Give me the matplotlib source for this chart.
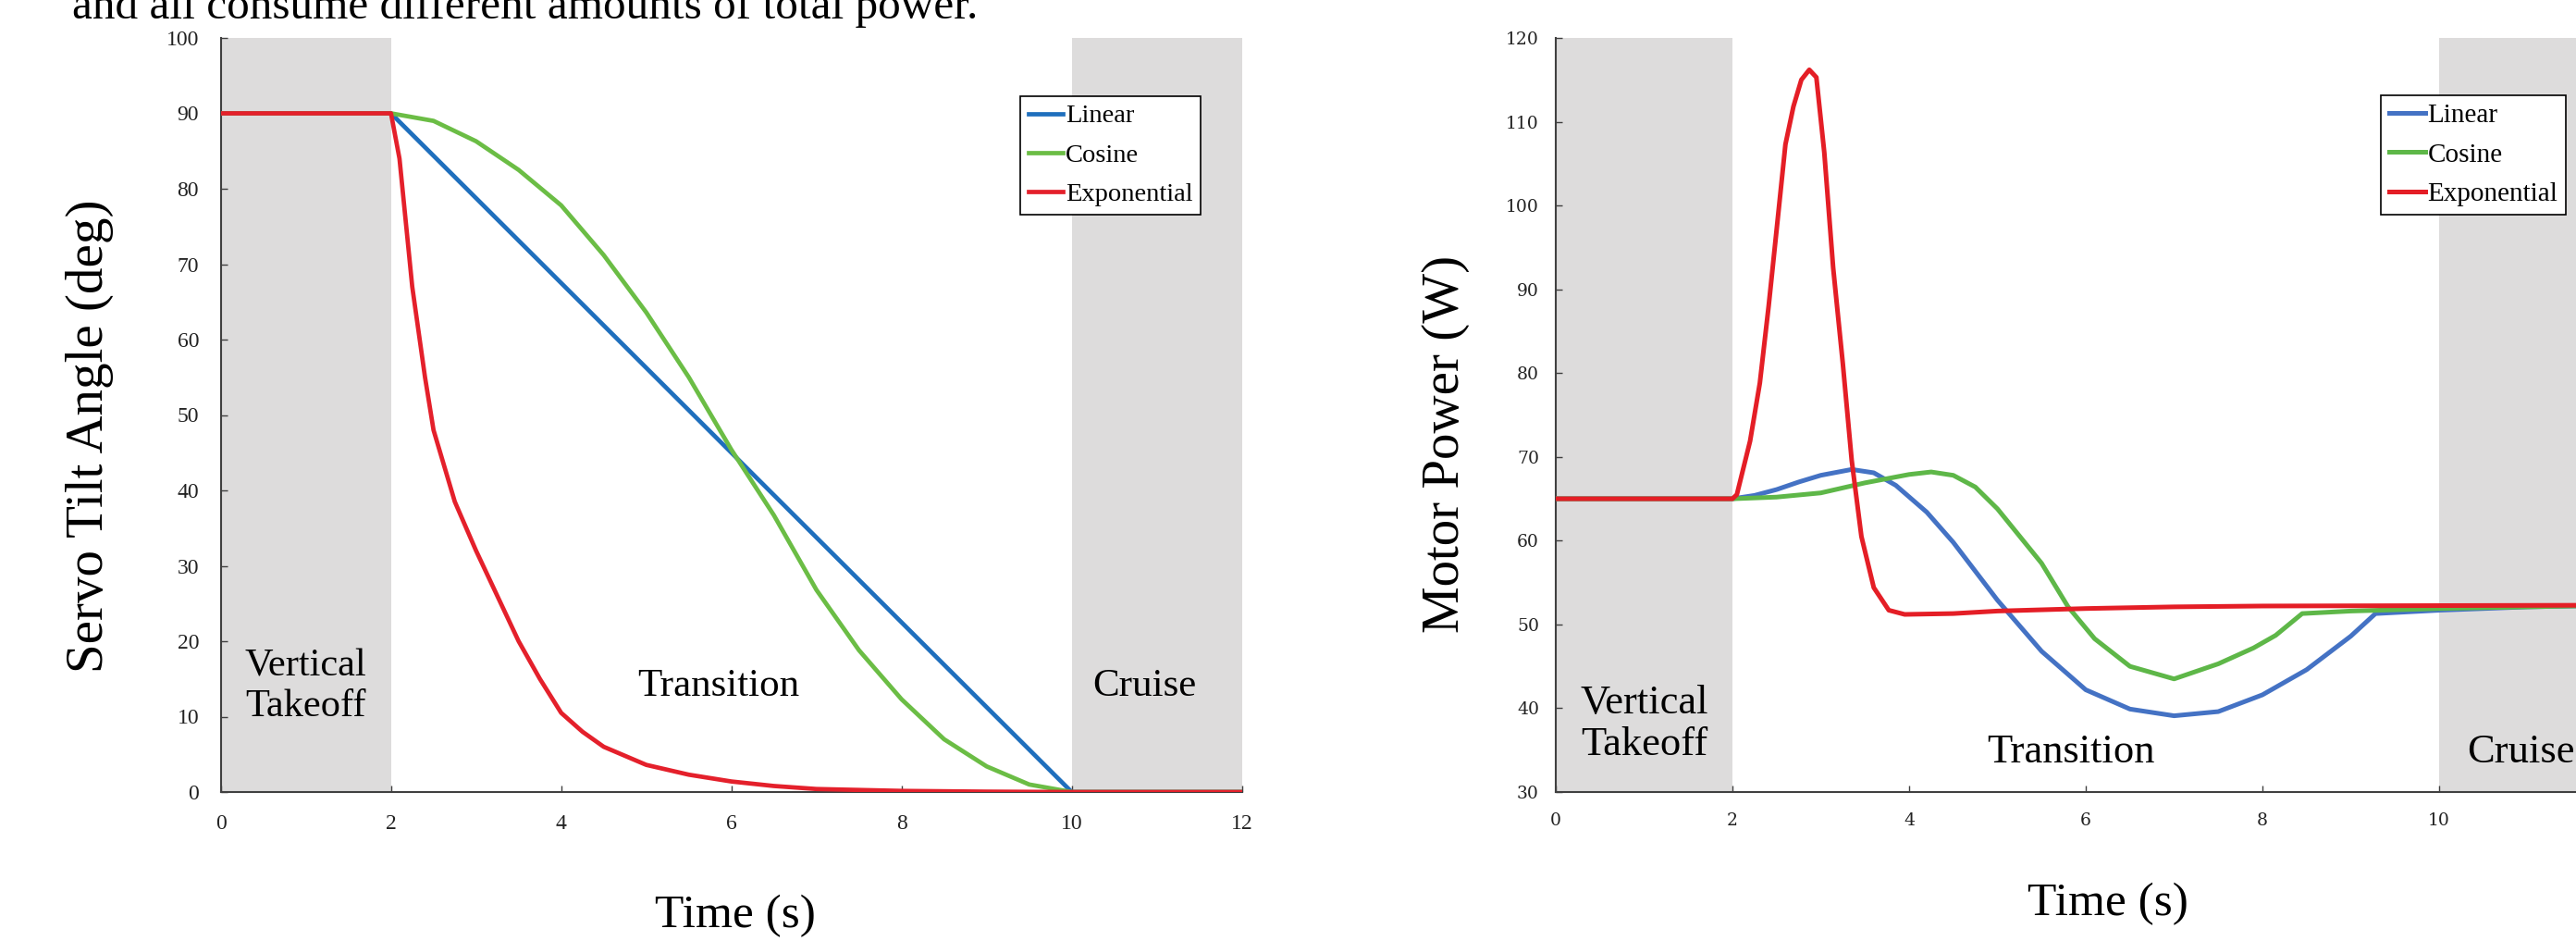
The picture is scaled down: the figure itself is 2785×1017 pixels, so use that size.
import matplotlib
matplotlib.use("Agg")
import matplotlib.pyplot as plt

plt.rcParams['font.family'] = ['Liberation Serif', 'DejaVu Serif']

# ---------------- data ----------------
series_names = ["Linear", "Cosine", "Exponential"]

# Servo tilt angle (deg) vs time (s)
tilt_lin_t = [0, 2, 10, 12]
tilt_lin_v = [90, 90, 0, 0]
tilt_cos_t = [0, 2, 2.5, 3, 3.5, 4, 4.5, 5, 5.5, 6, 6.5, 7, 7.5, 8, 8.5, 9, 9.5, 10, 12]
tilt_cos_v = [90, 90, 89, 86.3, 82.5, 77.8, 71.2, 63.6, 55, 45.4, 36.7, 26.8, 18.8, 12.3, 7, 3.4, 1.0, 0, 0]
tilt_exp_t = [0, 2, 2.1, 2.25, 2.4, 2.5, 2.75, 3, 3.25, 3.5, 3.75, 4, 4.25, 4.5, 5, 5.5, 6, 6.5, 7, 8, 9, 10, 12]
tilt_exp_v = [90, 90, 84, 67, 55, 48, 38.5, 32, 26, 20, 15, 10.5, 8, 6, 3.6, 2.3, 1.4, 0.8, 0.4, 0.15, 0.05, 0, 0]

# Motor power (W) vs time (s)
pow_lin_t = [0, 2, 2.25, 2.5, 2.75, 3, 3.35, 3.6, 3.85, 4.2, 4.5, 5, 5.5, 6, 6.5, 7, 7.5, 8, 8.5, 9, 9.28, 10, 11, 12]
pow_lin_v = [65, 65, 65.4, 66.1, 67, 67.8, 68.5, 68.1, 66.6, 63.4, 59.8, 52.9, 46.8, 42.2, 39.9, 39.1, 39.6, 41.6, 44.6, 48.6, 51.3, 51.7, 52.1, 52.3]
pow_cos_t = [0, 2, 2.5, 3, 3.5, 4, 4.25, 4.5, 4.75, 5, 5.5, 5.8, 6.1, 6.5, 7, 7.5, 7.9, 8.15, 8.45, 9, 10, 11, 12]
pow_cos_v = [65, 65, 65.2, 65.7, 66.9, 67.9, 68.2, 67.8, 66.4, 63.8, 57.3, 52.1, 48.3, 45, 43.5, 45.3, 47.2, 48.7, 51.3, 51.6, 51.9, 52.1, 52.3]
pow_exp_t = [0, 2, 2.05, 2.2, 2.31, 2.41, 2.5, 2.6, 2.69, 2.78, 2.87, 2.95, 3.04, 3.14, 3.25, 3.35, 3.46, 3.6, 3.77, 3.95, 4.5, 5, 6, 7, 8, 12]
pow_exp_v = [65, 65, 65.5, 71.9, 78.8, 88, 97.1, 107.3, 111.8, 115, 116.2, 115.3, 106.3, 92.6, 81.1, 69.6, 60.5, 54.4, 51.7, 51.2, 51.3, 51.6, 51.9, 52.1, 52.2, 52.3]

phase_labels = ["Vertical\nTakeoff", "Transition", "Cruise"]
left_xticks = [0, 2, 4, 6, 8, 10, 12]
left_yticks = [0, 10, 20, 30, 40, 50, 60, 70, 80, 90, 100]
right_yticks = [30, 40, 50, 60, 70, 80, 90, 100, 110, 120]

caption = "and all consume different amounts of total power."

# ---------------- figure ----------------
W, H = 2785, 1017
fig = plt.figure(figsize=(W / 100, H / 100), dpi=100)

def fx(px):
    return px / W

def fy(py):
    return 1 - py / H

GRAY = '#dddcdc'
SPINE = '#404040'

def style_axes(ax, tickfont, tickfs, ypad, xpad):
    for s in ['top', 'right']:
        ax.spines[s].set_visible(False)
    for s in ['left', 'bottom']:
        ax.spines[s].set_color(SPINE)
        ax.spines[s].set_linewidth(1.5)
    ax.tick_params(axis='both', direction='in', length=5, width=1, color=SPINE, labelcolor='#222222')
    ax.tick_params(axis='y', pad=ypad)
    ax.tick_params(axis='x', pad=xpad)
    for lab in ax.get_xticklabels() + ax.get_yticklabels():
        lab.set_fontfamily(tickfont)
        lab.set_fontsize(tickfs)

# ---- left chart ----
ax1 = fig.add_axes([fx(238.7), fy(856), fx(1342.7) - fx(238.7), fy(41) - fy(856)])
ax1.set_xlim(0, 12)
ax1.set_ylim(0, 100)
ax1.axvspan(0, 2, color=GRAY, lw=0, zorder=0)
ax1.axvspan(10, 12, color=GRAY, lw=0, zorder=0)
c1 = ['#1f6fbd', '#6bbd45', '#e4202b']
ax1.plot(tilt_lin_t, tilt_lin_v, color=c1[0], lw=3.4, label=series_names[0], zorder=3)
ax1.plot(tilt_cos_t, tilt_cos_v, color=c1[1], lw=3.4, label=series_names[1], zorder=3)
ax1.plot(tilt_exp_t, tilt_exp_v, color=c1[2], lw=3.4, label=series_names[2], zorder=3)
ax1.set_xticks(left_xticks)
ax1.set_yticks(left_yticks)
style_axes(ax1, 'Liberation Serif', 17, 17, 17)
ax1.text(1, 14, phase_labels[0], ha='center', va='center', fontsize=30.5, linespacing=1.15)
ax1.text(5.85, 14, phase_labels[1], ha='center', va='center', fontsize=31)
ax1.text(10.86, 14, phase_labels[2], ha='center', va='center', fontsize=31)
leg1 = ax1.legend(loc='upper left', bbox_to_anchor=(fx(1103), fy(104)), bbox_transform=fig.transFigure,
                  fontsize=20.5, frameon=True, fancybox=False, edgecolor='black', framealpha=1,
                  handlelength=1.33, handletextpad=0.1, borderpad=0.3, labelspacing=0.58, borderaxespad=0)
leg1.get_frame().set_linewidth(1.2)

# ---- right chart ----
ax2 = fig.add_axes([fx(1682), fy(856), fx(1682 + 12 * 95.5) - fx(1682), fy(41) - fy(856)])
ax2.set_xlim(0, 12)
ax2.set_ylim(30, 120)
ax2.axvspan(0, 2, color=GRAY, lw=0, zorder=0)
ax2.axvspan(10, 12, color=GRAY, lw=0, zorder=0)
c2 = ['#4472c4', '#5eb748', '#e41e26']
ax2.plot(pow_lin_t, pow_lin_v, color=c2[0], lw=3.6, label=series_names[0], zorder=3)
ax2.plot(pow_cos_t, pow_cos_v, color=c2[1], lw=3.6, label=series_names[1], zorder=3)
ax2.plot(pow_exp_t, pow_exp_v, color=c2[2], lw=3.6, label=series_names[2], zorder=3)
ax2.set_xticks(left_xticks)
ax2.set_yticks(right_yticks)
style_axes(ax2, 'DejaVu Serif', 13.5, 13, 16)
ax2.text(1, 38.1, phase_labels[0], ha='center', va='center', fontsize=32, linespacing=1.15)
ax2.text(5.83, 34.7, phase_labels[1], ha='center', va='center', fontsize=32)
ax2.text(10.32, 34.7, phase_labels[2], ha='left', va='center', fontsize=32)
leg2 = ax2.legend(loc='upper left', bbox_to_anchor=(fx(2574), fy(103)), bbox_transform=fig.transFigure,
                  fontsize=21, frameon=True, fancybox=False, edgecolor='black', framealpha=1,
                  handlelength=1.33, handletextpad=0.1, borderpad=0.3, labelspacing=0.55, borderaxespad=0)
leg2.get_frame().set_linewidth(1.2)

# ---- axis titles & caption ----
fig.text(fx(97), fy(471), "Servo Tilt Angle (deg)", rotation=90, ha='center', va='center', fontsize=41)
fig.text(fx(795), fy(990), "Time (s)", ha='center', va='center', fontsize=37)
fig.text(fx(1563), fy(480), "Motor Power (W)", rotation=90, ha='center', va='center', fontsize=41)
fig.text(fx(2279), fy(977), "Time (s)", ha='center', va='center', fontsize=37)
fig.text(fx(78), fy(20), caption, ha='left', va='baseline', fontsize=35.5)

fig.savefig("out.png", dpi=100)
